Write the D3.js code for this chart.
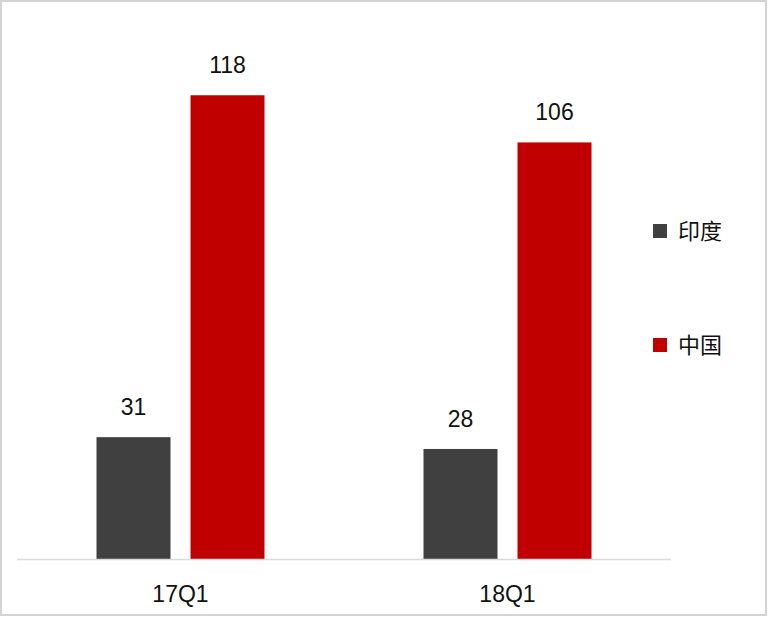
<!DOCTYPE html>
<html>
<head>
<meta charset="utf-8">
<script src="https://cdn.jsdelivr.net/npm/d3@7"></script>
<style>
  html, body { margin: 0; padding: 0; background: #fff; }
  svg { display: block; }
</style>
</head>
<body>
<div id="chart"></div>
<script>
// data
var categories = ["17Q1", "18Q1"];
var seriesNames = ["印度", "中国"];
var india = [31, 28];
var china = [118, 106];

var colors = ["#404040", "#C00000"];
var width = 768, height = 618;
var baseY = 559;
var fontLatin = "Arial, 'Liberation Sans', sans-serif";
var fontCJK = "'Noto Sans CJK SC', 'Liberation Sans', sans-serif";

var svg = d3.select("#chart")
    .append("svg")
    .attr("width", width)
    .attr("height", height);

// outer frame
svg.append("rect")
    .attr("x", 1)
    .attr("y", 1)
    .attr("width", width - 3)
    .attr("height", height - 4)
    .attr("fill", "#fff")
    .attr("stroke", "#d4d4d4")
    .attr("stroke-width", 2);

var x = d3.scaleBand()
    .domain(categories)
    .range([17, 671]);

var xSub = d3.scaleBand()
    .domain(seriesNames)
    .range([79.5, 247.5])
    .paddingInner(0.213);

var y = d3.scaleLinear()
    .domain([0, 140])
    .range([baseY, baseY - 140 * 3.93]);

var rows = categories.map(function (c, i) {
    return { cat: c, vals: [india[i], china[i]] };
});

var groups = svg.selectAll("g.cat")
    .data(rows)
    .enter()
    .append("g")
    .attr("class", "cat")
    .attr("transform", function (d) { return "translate(" + x(d.cat) + ",0)"; });

groups.selectAll("rect")
    .data(function (d) {
        return d.vals.map(function (v, j) { return { name: seriesNames[j], value: v, j: j }; });
    })
    .enter()
    .append("rect")
    .attr("x", function (d) { return xSub(d.name); })
    .attr("y", function (d) { return y(d.value); })
    .attr("width", xSub.bandwidth())
    .attr("height", function (d) { return baseY - y(d.value); })
    .attr("fill", function (d) { return colors[d.j]; });

groups.selectAll("text.val")
    .data(function (d) {
        return d.vals.map(function (v, j) { return { name: seriesNames[j], value: v }; });
    })
    .enter()
    .append("text")
    .attr("class", "val")
    .attr("x", function (d) { return xSub(d.name) + xSub.bandwidth() / 2; })
    .attr("y", function (d) { return y(d.value) - 22; })
    .attr("text-anchor", "middle")
    .style("font-family", fontLatin)
    .style("font-size", "23px")
    .attr("fill", "#111")
    .text(function (d) { return d.value; });

// baseline
svg.append("line")
    .attr("x1", 17)
    .attr("x2", 671)
    .attr("y1", baseY + 0.5)
    .attr("y2", baseY + 0.5)
    .attr("stroke", "#d9d9d9")
    .attr("stroke-width", 1.5);

// category labels
svg.append("g")
    .selectAll("text")
    .data(categories)
    .enter()
    .append("text")
    .attr("x", function (d) { return x(d) + x.bandwidth() / 2; })
    .attr("y", 602)
    .attr("text-anchor", "middle")
    .style("font-family", fontLatin)
    .style("font-size", "23px")
    .attr("fill", "#111")
    .text(function (d) { return d; });

// legend
var legend = svg.append("g")
    .selectAll("g")
    .data(seriesNames)
    .enter()
    .append("g")
    .attr("transform", function (d, i) { return "translate(653," + (224 + i * 114) + ")"; });

legend.append("rect")
    .attr("width", 14)
    .attr("height", 14)
    .attr("fill", function (d, i) { return colors[i]; });

legend.append("text")
    .attr("x", 25)
    .attr("y", 7)
    .attr("dy", "0.35em")
    .style("font-family", fontCJK)
    .style("font-size", "22px")
    .attr("fill", "#111")
    .text(function (d) { return d; });
</script>
</body>
</html>
